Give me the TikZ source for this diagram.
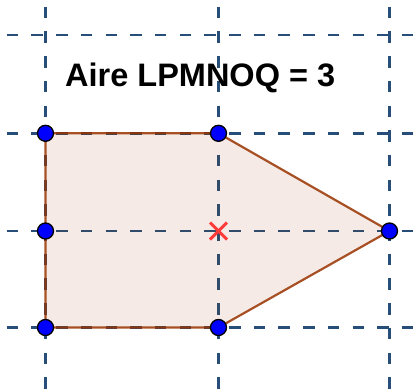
\documentclass[tikz,border=0pt]{standalone}
\usepackage{fontspec}
\setmainfont{Liberation Sans}
\definecolor{gridblue}{RGB}{38,78,120}
\definecolor{edgebrown}{RGB}{153,51,0}
\definecolor{crossred}{RGB}{255,60,60}
\begin{document}
\begin{tikzpicture}[x=1pt,y=-1pt,
  gridline/.style={draw=gridblue,line width=2.4pt,dash pattern=on 11.5pt off 13.2pt},
  edge/.style={draw=edgebrown,draw opacity=0.85,line width=2.2pt,line join=round},
  vertex/.style={circle,fill=blue,draw=black,line width=1.3pt,minimum size=16pt,inner sep=0pt},
  crossmark/.style={draw=crossred,line width=3pt},
  label/.style={font=\fontsize{32.5}{39}\selectfont\bfseries,inner sep=0pt,anchor=base west}]
\useasboundingbox (0,0) rectangle (415,391);
% grid
\foreach \yy in {35,133.3,231,327.5} \draw[gridline] (6.7,\yy) -- (415,\yy);
\foreach \xx in {45.5,218.5,389.5} \draw[gridline] (\xx,6.7) -- (\xx,391);
% polygon corners
\coordinate (L) at (45.5,133.3);
\coordinate (P) at (218.5,133.3);
\coordinate (M) at (389.5,231);
\coordinate (N) at (218.5,327.5);
\coordinate (O) at (45.5,327.5);
\coordinate (Q) at (45.5,231);
\fill[edgebrown,fill opacity=0.1] (L) -- (P) -- (M) -- (N) -- (O) -- (Q) -- cycle;
\draw[edge] (L) -- (P) -- (M) -- (N) -- (O) -- (Q) -- cycle;
% centre cross
\coordinate (C) at (218.5,231);
\draw[crossmark] ([shift={(-8.5,-8.5)}]C) -- ([shift={(8.5,8.5)}]C);
\draw[crossmark] ([shift={(-8.5,8.5)}]C) -- ([shift={(8.5,-8.5)}]C);
% vertices
\foreach \p in {L,P,M,N,O,Q} \node[vertex] (v\p) at (\p) {};
% label
\node[label] (aire) at (65,86.5) {Aire LPMNOQ = 3};
\end{tikzpicture}
\end{document}
